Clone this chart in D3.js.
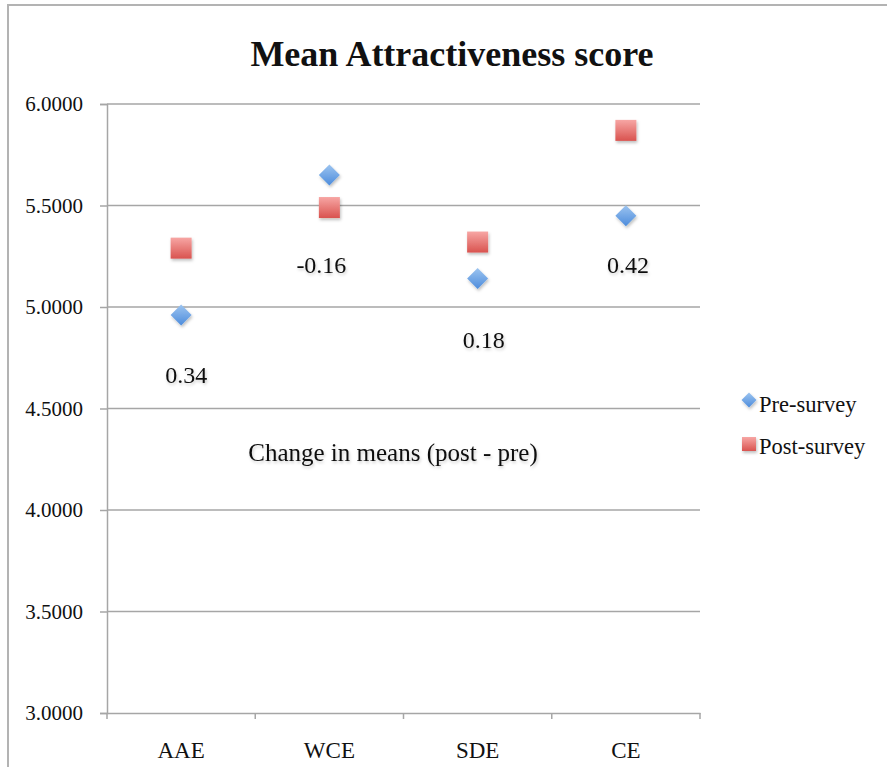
<!DOCTYPE html>
<html>
<head>
<meta charset="utf-8">
<script src="https://cdn.jsdelivr.net/npm/d3@7"></script>
<style>
  html, body { margin: 0; padding: 0; background: #fff; }
  svg text { font-family: "Liberation Serif", "DejaVu Serif", serif; fill: #111; }
</style>
</head>
<body>
<svg id="chart" width="887" height="767"></svg>
<script>
const categories = ["AAE", "WCE", "SDE", "CE"];
const preSurvey = [4.96, 5.65, 5.14, 5.45];
const postSurvey = [5.29, 5.49, 5.32, 5.87];
const changeLabels = ["0.34", "-0.16", "0.18", "0.42"];
const changeLabelValues = [4.66, 5.20, 4.83, 5.20];
const yTicks = [3.0, 3.5, 4.0, 4.5, 5.0, 5.5, 6.0];
const seriesNames = ["Pre-survey", "Post-survey"];

const svg = d3.select("#chart");
const defs = svg.append("defs");

const gBlue = defs.append("linearGradient").attr("id", "gBlue").attr("x1", 0).attr("y1", 0).attr("x2", 0).attr("y2", 1);
gBlue.append("stop").attr("offset", "0%").attr("stop-color", "#9cc4f0");
gBlue.append("stop").attr("offset", "100%").attr("stop-color", "#4d8cdc");
const gRed = defs.append("linearGradient").attr("id", "gRed").attr("x1", 0).attr("y1", 0).attr("x2", 0).attr("y2", 1);
gRed.append("stop").attr("offset", "0%").attr("stop-color", "#f7a6a4");
gRed.append("stop").attr("offset", "100%").attr("stop-color", "#d9534f");

const shadow = defs.append("filter").attr("id", "shadow").attr("x", "-50%").attr("y", "-50%").attr("width", "200%").attr("height", "200%");
shadow.append("feDropShadow").attr("dx", 1).attr("dy", 2).attr("stdDeviation", 1.5).attr("flood-color", "#000").attr("flood-opacity", 0.25);
const tshadow = defs.append("filter").attr("id", "tshadow").attr("x", "-20%").attr("y", "-50%").attr("width", "140%").attr("height", "200%");
tshadow.append("feDropShadow").attr("dx", 1).attr("dy", 2).attr("stdDeviation", 1.5).attr("flood-color", "#000").attr("flood-opacity", 0.2);

// outer frame
svg.append("path")
  .attr("d", "M8,767 L8,5 L887,5")
  .attr("fill", "none").attr("stroke", "#b3b3b3").attr("stroke-width", 2);

const margin = { left: 107, right: 700, top: 104, bottom: 713 };
const x = d3.scaleBand().domain(categories).range([margin.left, margin.right]);
const y = d3.scaleLinear().domain([3, 6]).range([margin.bottom, margin.top]);

// gridlines
svg.append("g").selectAll("line").data(yTicks.filter(d => d > 3)).join("line")
  .attr("x1", margin.left).attr("x2", margin.right)
  .attr("y1", d => y(d)).attr("y2", d => y(d))
  .attr("stroke", "#a6a6a6").attr("stroke-width", 1.5);

// y axis
const yAxis = svg.append("g").attr("transform", `translate(${margin.left},0)`)
  .call(d3.axisLeft(y).tickValues(yTicks).tickFormat(d3.format(".4f")).tickSize(7).tickPadding(17));
yAxis.select(".domain").attr("stroke", "#a6a6a6").attr("stroke-width", 1.5);
yAxis.selectAll(".tick line").attr("stroke", "#a6a6a6").attr("stroke-width", 1.5);
yAxis.selectAll(".tick text").attr("font-size", "21px").attr("font-family", "Liberation Serif, serif").attr("fill", "#111");

// x axis
const xAxis = svg.append("g").attr("transform", `translate(0,${margin.bottom})`)
  .call(d3.axisBottom(x).tickSize(0).tickPadding(29));
xAxis.select(".domain").attr("stroke", "#a6a6a6").attr("stroke-width", 1.5);
xAxis.selectAll(".tick text").attr("font-size", "23px").attr("font-family", "Liberation Serif, serif").attr("fill", "#111");
const boundaries = categories.map(c => x(c)).concat([margin.right]);
svg.append("g").selectAll("line").data(boundaries).join("line")
  .attr("x1", d => d).attr("x2", d => d)
  .attr("y1", margin.bottom).attr("y2", margin.bottom + 6)
  .attr("stroke", "#a6a6a6").attr("stroke-width", 1.5);

const cx = c => x(c) + x.bandwidth() / 2;

// change labels
svg.append("g").selectAll("text").data(categories).join("text")
  .attr("x", (c, i) => cx(c) + [5, -8, 6, 2][i])
  .attr("y", (c, i) => y(changeLabelValues[i]) + 1)
  .attr("text-anchor", "middle").attr("dominant-baseline", "middle")
  .attr("font-size", "24px").attr("filter", "url(#tshadow)")
  .text((c, i) => changeLabels[i]);

svg.append("text")
  .attr("x", 393).attr("y", y(4.27))
  .attr("text-anchor", "middle").attr("dominant-baseline", "middle")
  .attr("font-size", "25px").attr("filter", "url(#tshadow)")
  .text("Change in means (post - pre)");

// markers
const diamond = s => `M0,${-s} L${s},0 L0,${s} L${-s},0 Z`;
svg.append("g").selectAll("path").data(categories).join("path")
  .attr("d", diamond(10.5))
  .attr("transform", (c, i) => `translate(${cx(c)},${y(preSurvey[i])})`)
  .attr("fill", "url(#gBlue)").attr("filter", "url(#shadow)");

svg.append("g").selectAll("rect").data(categories).join("rect")
  .attr("x", c => cx(c) - 10.5).attr("y", (c, i) => y(postSurvey[i]) - 10.5)
  .attr("width", 21).attr("height", 21)
  .attr("fill", "url(#gRed)").attr("filter", "url(#shadow)");

// title
svg.append("text")
  .attr("x", 452).attr("y", 66)
  .attr("text-anchor", "middle")
  .attr("font-size", "36px").attr("font-weight", "bold")
  .text("Mean Attractiveness score");

// legend
const legend = svg.append("g");
legend.append("path").attr("d", diamond(7.5)).attr("transform", "translate(749,400)")
  .attr("fill", "url(#gBlue)").attr("filter", "url(#shadow)");
legend.append("rect").attr("x", 742).attr("y", 437).attr("width", 14).attr("height", 14)
  .attr("fill", "url(#gRed)").attr("filter", "url(#shadow)");
legend.selectAll("text.lg").data(seriesNames).join("text")
  .attr("class", "lg")
  .attr("x", 759).attr("y", (d, i) => [412, 454][i])
  .attr("font-size", "22.5px")
  .text(d => d);
</script>
</body>
</html>
